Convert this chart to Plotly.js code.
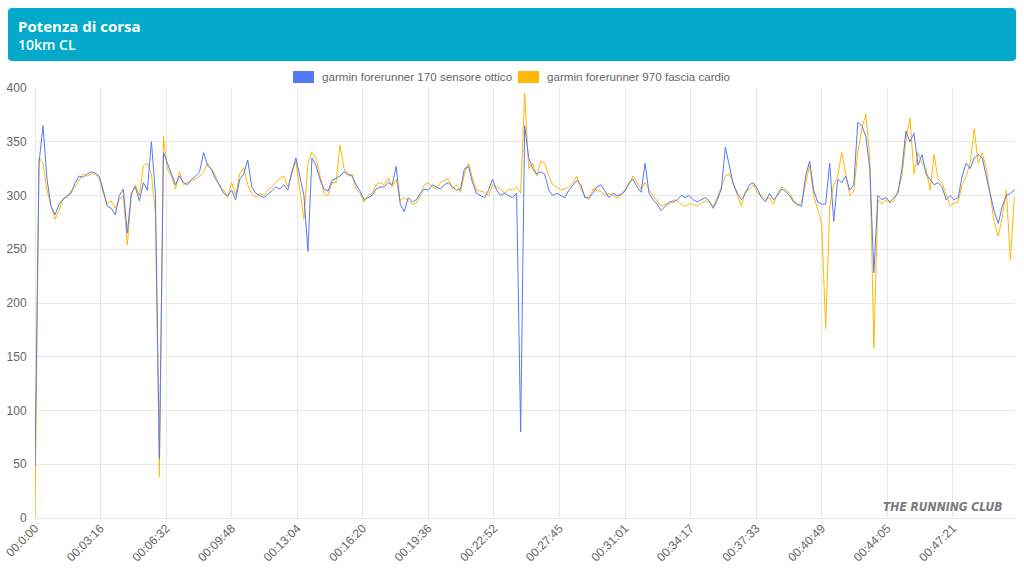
<!DOCTYPE html>
<html>
<head>
<meta charset="utf-8">
<script src="https://cdn.plot.ly/plotly-3.0.1.min.js"></script>
<style>
html,body{margin:0;padding:0;background:#fff;}
#chart{width:1024px;height:576px;}
</style>
</head>
<body>
<div id="chart"></div>
<script>
// ---------- data ----------
const chartTitle = "Potenza di corsa";
const chartSubtitle = "10km CL";
const seriesNames = ["garmin forerunner 170 sensore ottico", "garmin forerunner 970 fascia cardio"];
const tickLabels = ["00:0:00","00:03:16","00:06:32","00:09:48","00:13:04","00:16:20","00:19:36","00:22:52",
                    "00:27:45","00:31:01","00:34:17","00:37:33","00:40:49","00:44:05","00:47:21"];
const tickStep = 196;      // samples between labelled ticks
const sampleStep = 12;     // samples represented by each value below
const watermark = "THE RUNNING CLUB";

// garmin forerunner 170 sensore ottico (W)
const optical = [
48,330,365,315,290,282,292,296,300,302,312,318,317,320,322,321,318,305,290,288,
282,300,306,265,302,308,295,312,305,350,302,55,340,330,320,310,318,312,310,315,
318,322,340,328,324,315,310,302,300,305,296,315,320,333,308,302,300,298,301,305,
308,306,310,305,322,335,318,300,248,335,328,315,306,304,314,316,318,322,320,318,
310,304,296,298,300,306,308,308,312,310,327,292,285,298,294,296,302,306,305,310,
308,306,310,312,308,305,306,325,327,312,302,300,298,305,315,305,300,302,300,298,
302,80,365,335,325,320,322,320,305,300,302,300,298,305,310,314,310,298,298,302,
308,310,304,298,302,300,301,304,312,315,308,303,330,302,296,292,286,290,294,294,
296,300,298,300,296,294,296,298,295,288,296,306,345,328,310,302,296,302,310,312,
306,298,294,302,296,300,306,304,300,294,292,290,318,332,305,294,292,292,330,276,
315,312,318,305,310,368,365,355,325,228,300,296,298,294,298,302,325,360,350,358,
328,338,320,315,310,312,308,296,300,296,298,318,330,325,335,338,335,318,302,285,
274,290,300,302,305,302
];

// garmin forerunner 970 fascia cardio (W)
const chest = [
0,335,330,305,290,278,286,298,298,305,308,314,320,318,320,320,316,302,292,295,
288,296,300,254,300,310,300,328,330,320,284,38,355,325,318,306,322,310,312,314,
315,318,322,330,325,318,308,305,298,312,300,320,326,310,302,298,302,300,305,308,
312,316,318,308,320,332,305,278,330,340,335,318,302,300,312,312,347,325,318,320,
306,302,294,300,302,310,312,310,316,308,315,295,298,295,292,293,300,310,312,308,
306,312,314,316,306,310,303,320,330,316,305,304,303,300,310,308,306,302,306,305,
308,302,395,325,330,318,332,330,318,310,308,305,306,308,312,318,306,300,296,306,
305,304,300,302,300,298,300,306,310,318,312,306,312,305,300,295,290,292,292,296,
295,292,290,292,292,290,293,295,294,290,298,308,318,320,312,300,290,304,306,310,
302,300,296,298,292,302,308,306,302,296,290,294,310,328,300,288,274,176,290,310,
318,340,320,300,304,340,362,376,335,158,296,292,296,293,295,305,318,352,372,320,
340,330,325,305,338,315,312,300,290,293,294,310,318,330,362,330,340,325,298,275,
262,280,305,240,298,300
];

// ---------- styling ----------
const blue = "#5479f7";
const orange = "#ffb703";
const gridColor = "#e8e8e8";
const tickFont = {family: "Liberation Sans, Arial, sans-serif", size: 12, color: "#666"};
const legendFont = {family: "Liberation Sans, Arial, sans-serif", size: 11.6, color: "#666"};

const W = 1024, H = 576;
const M = {l: 35, r: 9, t: 88, b: 58};
const pw = W - M.l - M.r, ph = H - M.t - M.b;
const px = x => (x - M.l) / pw;          // pixel -> paper x
const py = y => (H - M.b - y) / ph;      // pixel -> paper y

const xs = optical.map((_, i) => i * sampleStep);
const tickVals = tickLabels.map((_, i) => i * tickStep);

const traces = [
  {x: xs, y: chest, name: seriesNames[1], type: "scatter", mode: "lines",
   line: {color: orange, width: 1}, hoverinfo: "skip"},
  {x: xs, y: optical, name: seriesNames[0], type: "scatter", mode: "lines",
   line: {color: blue, width: 1}, hoverinfo: "skip"}
];

function roundRect(x0, y0, x1, y1, r) {
  const a = px(x0), b = px(x1), top = py(y0), bot = py(y1);
  const rx = r / pw, ry = r / ph;
  return `M ${a + rx},${top} L ${b - rx},${top} Q ${b},${top} ${b},${top - ry} ` +
         `L ${b},${bot + ry} Q ${b},${bot} ${b - rx},${bot} L ${a + rx},${bot} ` +
         `Q ${a},${bot} ${a},${bot + ry} L ${a},${top - ry} Q ${a},${top} ${a + rx},${top} Z`;
}

const shapes = [
  {type: "path", xref: "paper", yref: "paper", path: roundRect(8, 8, 1016, 61, 4),
   fillcolor: "#02a9cb", line: {width: 0}, layer: "above"},
  {type: "rect", xref: "paper", yref: "paper", x0: px(293), x1: px(314), y0: py(71), y1: py(83),
   fillcolor: blue, line: {width: 0}},
  {type: "rect", xref: "paper", yref: "paper", x0: px(518), x1: px(539), y0: py(71), y1: py(83),
   fillcolor: orange, line: {width: 0}}
];

const annotations = [
  {xref: "paper", yref: "paper", x: px(16), y: py(26), xanchor: "left", yanchor: "middle",
   text: "<b>" + chartTitle + "</b>", showarrow: false,
   font: {family: "Open Sans, sans-serif", size: 15, color: "#fff"}},
  {xref: "paper", yref: "paper", x: px(16), y: py(45), xanchor: "left", yanchor: "middle",
   text: chartSubtitle, showarrow: false,
   font: {family: "Open Sans, sans-serif", size: 14, color: "#fff", weight: 600}},
  {xref: "paper", yref: "paper", x: px(320), y: py(76), xanchor: "left", yanchor: "middle",
   text: seriesNames[0], showarrow: false, font: legendFont},
  {xref: "paper", yref: "paper", x: px(545), y: py(76), xanchor: "left", yanchor: "middle",
   text: seriesNames[1], showarrow: false, font: legendFont},
  {xref: "paper", yref: "paper", x: px(1004), y: py(507), xanchor: "right", yanchor: "middle",
   text: "<b><i>" + watermark + "</i></b>", showarrow: false,
   font: {family: "DejaVu Sans Condensed, Liberation Sans Narrow, sans-serif", size: 12, color: "#7a7a7a"}}
];

const layout = {
  width: W, height: H,
  margin: M,
  paper_bgcolor: "#fff", plot_bgcolor: "#fff",
  showlegend: false,
  xaxis: {range: [0, 2930], tickvals: tickVals, ticktext: tickLabels, tickangle: -45,
          showgrid: true, gridcolor: gridColor, gridwidth: 1, zeroline: true, zerolinecolor: gridColor,
          showline: false, ticks: "", tickfont: tickFont, fixedrange: true},
  yaxis: {range: [0, 400], dtick: 50, showgrid: true, gridcolor: gridColor, gridwidth: 1,
          zeroline: true, zerolinecolor: gridColor, showline: false, ticks: "outside", ticklen: 5,
          tickcolor: "rgba(0,0,0,0)", tickfont: tickFont, fixedrange: true},
  shapes: shapes,
  annotations: annotations
};

Plotly.newPlot("chart", traces, layout, {displayModeBar: false, staticPlot: true});
</script>
</body>
</html>
